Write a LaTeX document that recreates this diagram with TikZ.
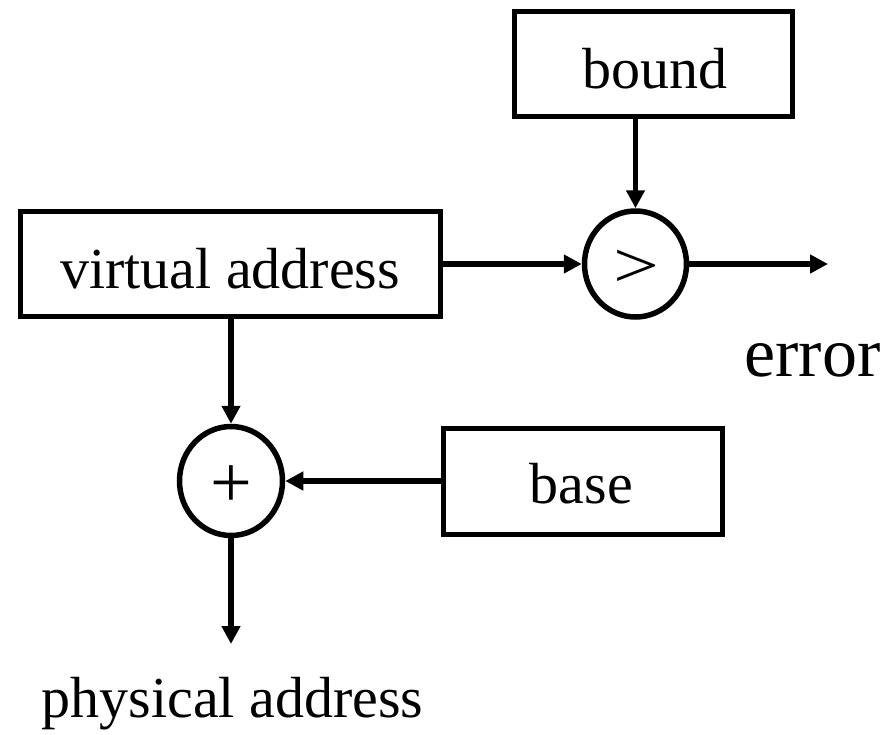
\documentclass[tikz,border=0pt]{standalone}
\usepackage{fontspec}
\setmainfont{Liberation Serif}
\usetikzlibrary{arrows.meta,shapes.geometric}
\begin{document}
\begin{tikzpicture}[x=1pt,y=-1pt,
  box/.style={draw, line width=5.5pt, inner sep=0pt, minimum height=105pt},
  gate/.style={draw, ellipse, line width=5.5pt, inner sep=0pt},
  lbl/.style={inner sep=0pt, anchor=base, font=\fontsize{58}{60}\selectfont},
  sym/.style={inner sep=0pt, font=\fontsize{74}{76}\selectfont},
  arr/.style={line width=5.5pt, -{Triangle[length=18pt,width=18pt]}}]
\useasboundingbox (0,0) rectangle (889,734);
% boxes
\node[box, minimum width=278pt] (bound) at (653.5,64) {};
\node[box, minimum width=420pt] (va) at (230.5,264) {};
\node[box, minimum width=279pt, minimum height=106pt] (base) at (583,481.5) {};
% gates
\node[gate, minimum width=102pt, minimum height=106pt] (gt) at (635.5,264) {};
\node[gate, minimum width=103pt, minimum height=109pt] (plus) at (231,481) {};
% labels
\node[lbl] (boundt) at (654.5,88) {bound};
\node[lbl] (vat) at (230,288) {virtual address};
\node[lbl] (baset) at (581.5,503) {base};
\node[lbl, font=\fontsize{70}{72}\selectfont] (errt) at (812.5,376) {error};
\node[lbl] (phyt) at (232.5,717) {physical address};
\node[sym, yscale=0.88, xscale=1.1] (gtt) at (636,269) {>};
\node[sym] (plust) at (231,486.5) {+};
% free ends
\coordinate (errend) at (828,264);
\coordinate (pend) at (231,644);
% connectors
\draw[arr] (bound.south -| gt.north) -- (gt.north);
\draw[arr] (va.east |- gt.west) -- (gt.west);
\draw[arr] (gt.east) -- (errend);
\draw[arr] (va.south -| plus.north) -- (plus.north);
\draw[arr] (base.west |- plus.east) -- (plus.east);
\draw[arr] (plus.south) -- (pend);
\end{tikzpicture}
\end{document}
